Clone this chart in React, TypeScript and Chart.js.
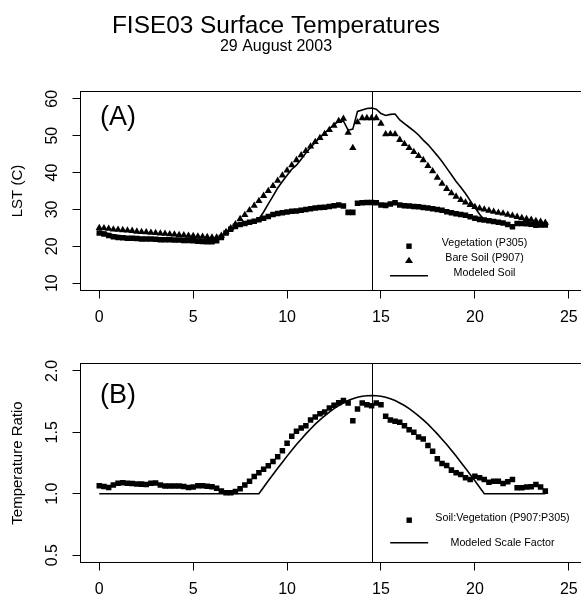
import React, { useEffect, useRef } from "react";
import { Chart, registerables } from "chart.js";

Chart.register(...registerables);

const FONT = "'Liberation Sans', Arial, Helvetica, sans-serif";

const titleText = "FISE03 Surface Temperatures";
const subtitleText = "29 August 2003";

const hours = [
  0, 0.25, 0.5, 0.75, 1, 1.25, 1.5, 1.75, 2, 2.25, 2.5, 2.75,
  3, 3.25, 3.5, 3.75, 4, 4.25, 4.5, 4.75, 5, 5.25, 5.5, 5.75,
  6, 6.25, 6.5, 6.75, 7, 7.25, 7.5, 7.75, 8, 8.25, 8.5, 8.75,
  9, 9.25, 9.5, 9.75, 10, 10.25, 10.5, 10.75, 11, 11.25, 11.5, 11.75,
  12, 12.25, 12.5, 12.75, 13, 13.25, 13.5, 13.75, 14, 14.25, 14.5, 14.75,
  15, 15.25, 15.5, 15.75, 16, 16.25, 16.5, 16.75, 17, 17.25, 17.5, 17.75,
  18, 18.25, 18.5, 18.75, 19, 19.25, 19.5, 19.75, 20, 20.25, 20.5, 20.75,
  21, 21.25, 21.5, 21.75, 22, 22.25, 22.5, 22.75, 23, 23.25, 23.5, 23.75,
];

// Vegetation (P305) LST, deg C
const vegetation = [
  23.6, 23.3, 22.9, 22.6, 22.4, 22.3, 22.2, 22.2, 22.1, 22.0, 22.0, 22.0,
  21.9, 21.8, 21.8, 21.8, 21.7, 21.7, 21.6, 21.6, 21.5, 21.4, 21.3, 21.2,
  21.2, 21.5, 22.4, 23.6, 24.6, 25.4, 25.9, 26.2, 26.5, 26.8, 27.2, 27.6,
  28.1, 28.6, 28.9, 29.1, 29.3, 29.5, 29.6, 29.8, 30.0, 30.2, 30.4, 30.5,
  30.6, 30.8, 31.0, 31.2, 30.9, 29.2, 29.2, 31.7, 31.8, 31.9, 31.9, 31.8,
  31.2, 31.1, 31.5, 31.8, 31.2, 31.0, 30.9, 30.8, 30.7, 30.5, 30.4, 30.2,
  30.0, 29.8, 29.4, 29.1, 28.8, 28.6, 28.4, 28.0, 27.6, 27.3, 27.1, 26.9,
  26.7, 26.5, 26.3, 25.9, 25.3, 26.2, 26.2, 26.1, 26.0, 25.7, 25.8, 25.8,
];

// Bare Soil (P907) LST, deg C
const bareSoil = [
  25.0, 24.9, 24.8, 24.6, 24.5, 24.4, 24.3, 24.2, 24.0, 23.9, 23.8, 23.7,
  23.6, 23.5, 23.4, 23.3, 23.2, 23.1, 23.0, 22.9, 22.8, 22.7, 22.6, 22.5,
  22.4, 22.4, 22.9, 23.9, 24.9, 26.0, 27.4, 28.5, 29.8, 31.0, 32.3, 33.7,
  35.0, 36.4, 37.8, 39.2, 40.6, 42.0, 43.4, 44.7, 45.9, 47.1, 48.3, 49.4,
  50.5, 51.6, 52.7, 54.0, 54.6, 50.8, 46.7, 53.7, 54.8, 54.8, 54.8, 54.8,
  53.3, 50.4, 50.5, 50.4, 48.9, 47.8, 46.7, 45.6, 44.5, 43.4, 41.8, 40.4,
  38.6, 37.0, 35.6, 34.4, 33.5, 32.6, 31.9, 31.2, 30.7, 30.3, 30.0, 29.7,
  29.4, 29.1, 28.9, 28.6, 28.3, 28.0, 27.7, 27.4, 27.2, 26.9, 26.7, 26.4,
];

// Modeled soil LST, deg C
const modeledSoil = [
  24.1, 23.8, 23.4, 23.1, 22.9, 22.7, 22.6, 22.5, 22.4, 22.3, 22.2, 22.2,
  22.1, 22.0, 22.0, 21.9, 21.9, 21.8, 21.8, 21.7, 21.6, 21.5, 21.4, 21.3,
  21.3, 21.5, 22.4, 23.6, 24.6, 25.4, 25.9, 26.2, 26.5, 26.8, 27.4, 29.3,
  31.5, 33.6, 35.8, 37.6, 39.3, 40.9, 42.0, 43.6, 45.3, 46.8, 48.2, 49.5,
  50.7, 51.9, 53.0, 53.9, 54.0, 51.5, 51.8, 56.6, 57.0, 57.4, 57.5, 57.2,
  56.0, 55.5, 55.8, 55.9, 54.3, 53.3, 52.3, 51.3, 50.2, 48.8, 47.6, 46.1,
  44.6, 43.0, 41.2, 39.4, 37.6, 36.0, 34.3, 32.4, 30.5, 28.7, 27.1, 26.9,
  26.7, 26.5, 26.3, 25.9, 25.3, 26.2, 26.2, 26.1, 26.0, 25.7, 25.8, 25.8,
];

// Soil:Vegetation ratio (P907:P305)
const ratio = [
  1.065, 1.058, 1.050, 1.070, 1.085, 1.089, 1.085, 1.083, 1.080, 1.078, 1.075, 1.085,
  1.087, 1.070, 1.062, 1.062, 1.062, 1.062, 1.058, 1.050, 1.055, 1.065, 1.065, 1.060,
  1.057, 1.045, 1.021, 1.008, 1.008, 1.018, 1.040, 1.070, 1.102, 1.140, 1.170, 1.200,
  1.228, 1.262, 1.300, 1.350, 1.410, 1.467, 1.508, 1.535, 1.554, 1.600, 1.625, 1.650,
  1.665, 1.697, 1.720, 1.740, 1.759, 1.738, 1.594, 1.689, 1.738, 1.724, 1.716, 1.738,
  1.724, 1.630, 1.600, 1.589, 1.581, 1.554, 1.521, 1.500, 1.462, 1.446, 1.392, 1.346,
  1.284, 1.246, 1.230, 1.192, 1.170, 1.157, 1.130, 1.116, 1.143, 1.130, 1.116, 1.094,
  1.102, 1.102, 1.083, 1.097, 1.116, 1.049, 1.049, 1.054, 1.057, 1.075, 1.054, 1.021,
];

// Modeled scale factor
const scaleFactor = [
  1.0, 1.0, 1.0, 1.0, 1.0, 1.0, 1.0, 1.0, 1.0, 1.0, 1.0, 1.0,
  1.0, 1.0, 1.0, 1.0, 1.0, 1.0, 1.0, 1.0, 1.0, 1.0, 1.0, 1.0,
  1.0, 1.0, 1.0, 1.0, 1.0, 1.0, 1.0, 1.0, 1.0, 1.0, 1.0, 1.052,
  1.105, 1.156, 1.207, 1.257, 1.306, 1.354, 1.400, 1.444, 1.487, 1.527, 1.566, 1.601,
  1.634, 1.665, 1.693, 1.718, 1.739, 1.758, 1.773, 1.785, 1.794, 1.798, 1.800, 1.798,
  1.794, 1.785, 1.773, 1.758, 1.739, 1.718, 1.693, 1.665, 1.634, 1.601, 1.566, 1.527,
  1.487, 1.444, 1.400, 1.354, 1.306, 1.257, 1.207, 1.156, 1.105, 1.052, 1.0, 1.0,
  1.0, 1.0, 1.0, 1.0, 1.0, 1.0, 1.0, 1.0, 1.0, 1.0, 1.0, 1.0,
];

const xTicks = [0, 5, 10, 15, 20, 25];
const yTicksA = [10, 20, 30, 40, 50, 60];
const yTicksB = [0.5, 1.0, 1.5, 2.0];
const solarNoon = 14.5;

const toXY = (ys: number[]) => hours.map((h, i) => ({ x: h, y: ys[i] }));

type LegendRow = { text: string; kind: "rect" | "triangle" | "line"; textDy: number; symDy: number };

function makeDecor(opts: {
  panel: string;
  panelAt: [number, number];
  legendTextDx: number;
  legendSymDx: number;
  rows: LegendRow[];
  drawTitle: boolean;
}) {
  return {
    id: "decor" + opts.panel,
    afterDraw(chart: any) {
      const ctx = chart.ctx as CanvasRenderingContext2D;
      const a = chart.chartArea;
      const xs = chart.scales.x;
      const ys = chart.scales.y;
      ctx.save();
      ctx.strokeStyle = "#000";
      ctx.fillStyle = "#000";
      ctx.lineWidth = 1;
      // box
      ctx.strokeRect(a.left, a.top, a.right - a.left, a.bottom - a.top);
      // vertical line
      const vx = Math.round(xs.getPixelForValue(solarNoon)) + 0.5;
      ctx.beginPath();
      ctx.moveTo(vx, a.top);
      ctx.lineTo(vx, a.bottom);
      ctx.stroke();
      // panel label
      ctx.font = `27px ${FONT}`;
      ctx.textAlign = "center";
      ctx.textBaseline = "middle";
      ctx.fillText(opts.panel, xs.getPixelForValue(opts.panelAt[0]), ys.getPixelForValue(opts.panelAt[1]));
      // legend
      ctx.font = `10.7px ${FONT}`;
      const tx = a.left + opts.legendTextDx;
      const sx = a.left + opts.legendSymDx;
      for (const r of opts.rows) {
        ctx.fillText(r.text, tx, a.bottom + r.textDy);
        const sy = a.bottom + r.symDy;
        if (r.kind === "rect") {
          ctx.fillRect(sx - 2.7, sy - 2.7, 5.4, 5.4);
        } else if (r.kind === "triangle") {
          ctx.beginPath();
          ctx.moveTo(sx, sy - 3.6);
          ctx.lineTo(sx + 4, sy + 2.6);
          ctx.lineTo(sx - 4, sy + 2.6);
          ctx.closePath();
          ctx.fill();
        } else {
          ctx.lineWidth = 1.6;
          ctx.beginPath();
          ctx.moveTo(sx - 19, sy);
          ctx.lineTo(sx + 19, sy);
          ctx.stroke();
          ctx.lineWidth = 1;
        }
      }
      if (opts.drawTitle) {
        ctx.textBaseline = "alphabetic";
        ctx.font = `24.4px ${FONT}`;
        ctx.fillText(titleText, 276, 33);
        ctx.font = `16px ${FONT}`;
        ctx.fillText(subtitleText, 276, 50.5);
      }
      ctx.restore();
    },
  };
}

function makeConfig(opts: {
  datasets: any[];
  yMin: number;
  yMax: number;
  yTicks: number[];
  yFmt: (v: number) => string;
  yTitle: string;
  yPad: number;
  padTop: number;
  xAxisHeight: number;
  decor: any;
}) {
  const gridOpts = {
    display: true,
    drawOnChartArea: false,
    drawTicks: true,
    tickLength: 8,
    color: "#000",
    lineWidth: 1,
  };
  return {
    type: "scatter",
    data: { datasets: opts.datasets },
    options: {
      responsive: false,
      animation: false,
      events: [],
      layout: { padding: { top: opts.padTop, right: 12.44, bottom: 0, left: 0 } },
      plugins: {
        legend: { display: false },
        tooltip: { enabled: false },
        title: { display: false },
      },
      scales: {
        x: {
          type: "linear",
          min: -1,
          max: 26,
          afterBuildTicks: (s: any) => {
            s.ticks = xTicks.map((v) => ({ value: v }));
          },
          afterFit: (s: any) => {
            s.height = opts.xAxisHeight;
          },
          grid: gridOpts,
          border: { display: false },
          ticks: {
            color: "#000",
            font: { size: 16, family: FONT },
            padding: 9.5,
            maxRotation: 0,
            autoSkip: false,
            callback: (v: any) => String(v),
          },
        },
        y: {
          type: "linear",
          min: opts.yMin,
          max: opts.yMax,
          afterBuildTicks: (s: any) => {
            s.ticks = opts.yTicks.map((v) => ({ value: v }));
          },
          afterFit: (s: any) => {
            s.width = 80.5;
          },
          grid: gridOpts,
          border: { display: false },
          ticks: {
            color: "#000",
            font: { size: 16, family: FONT },
            minRotation: 90,
            maxRotation: 90,
            crossAlign: "center",
            padding: opts.yPad,
            autoSkip: false,
            callback: (v: any) => opts.yFmt(Number(v)),
          },
          title: {
            display: true,
            text: opts.yTitle,
            color: "#000",
            font: { size: 15, family: FONT },
            padding: { top: 9.3, bottom: 0 },
          },
        },
      },
    },
    plugins: [opts.decor],
  };
}

const pointSet = (label: string, ys: number[], style: string, r: number) => ({
  label,
  data: toXY(ys),
  pointStyle: style,
  pointRadius: r,
  pointBackgroundColor: "#000",
  pointBorderColor: "#000",
  pointBorderWidth: 0,
  showLine: false,
});

const lineSet = (label: string, ys: number[]) => ({
  label,
  data: toXY(ys),
  showLine: true,
  pointRadius: 0,
  borderColor: "#000",
  borderWidth: 1.6,
  fill: false,
  tension: 0,
});

export default function App() {
  const refA = useRef<HTMLCanvasElement | null>(null);
  const refB = useRef<HTMLCanvasElement | null>(null);

  useEffect(() => {
    Chart.defaults.font.family = FONT;
    const cA = new Chart(
      refA.current as HTMLCanvasElement,
      makeConfig({
        datasets: [
          lineSet("Modeled Soil", modeledSoil),
          pointSet("Vegetation (P305)", vegetation, "rect", 3.9),
          pointSet("Bare Soil (P907)", bareSoil, "triangle", 4.2),
        ],
        yMin: 8,
        yMax: 62,
        yTicks: yTicksA,
        yFmt: (v) => String(v),
        yTitle: "LST (C)",
        yPad: 11.1,
        padTop: 91.5,
        xAxisHeight: 39.5,
        decor: makeDecor({
          panel: "(A)",
          panelAt: [1, 55],
          legendTextDx: 404,
          legendSymDx: 328.5,
          rows: [
            { text: "Vegetation (P305)", kind: "rect", textDy: -47.2, symDy: -44.3 },
            { text: "Bare Soil (P907)", kind: "triangle", textDy: -32.8, symDy: -30.2 },
            { text: "Modeled Soil", kind: "line", textDy: -17.7, symDy: -14.8 },
          ],
          drawTitle: true,
        }),
      }) as any
    );
    const cB = new Chart(
      refB.current as HTMLCanvasElement,
      makeConfig({
        datasets: [
          lineSet("Modeled Scale Factor", scaleFactor),
          pointSet("Soil:Vegetation (P907:P305)", ratio, "rect", 3.9),
        ],
        yMin: 0.44,
        yMax: 2.06,
        yTicks: yTicksB,
        yFmt: (v) => v.toFixed(1),
        yTitle: "Temperature Ratio",
        yPad: 8.9,
        padTop: 33.5,
        xAxisHeight: 36.5,
        decor: makeDecor({
          panel: "(B)",
          panelAt: [1, 1.8],
          legendTextDx: 422,
          legendSymDx: 328.7,
          rows: [
            { text: "Soil:Vegetation (P907:P305)", kind: "rect", textDy: -44.2, symDy: -42.3 },
            { text: "Modeled Scale Factor", kind: "line", textDy: -19, symDy: -19.8 },
          ],
          drawTitle: false,
        }),
      }) as any
    );
    return () => {
      cA.destroy();
      cB.destroy();
    };
  }, []);

  return (
    <div
      style={{
        position: "fixed",
        left: 0,
        top: 0,
        width: 581,
        height: 599,
        overflow: "hidden",
        background: "#fff",
      }}
    >
      <canvas
        ref={refA}
        width={600}
        height={330}
        style={{ position: "absolute", left: 0, top: 0, width: 600, height: 330 }}
      />
      <canvas
        ref={refB}
        width={600}
        height={269}
        style={{ position: "absolute", left: 0, top: 330, width: 600, height: 269 }}
      />
    </div>
  );
}
